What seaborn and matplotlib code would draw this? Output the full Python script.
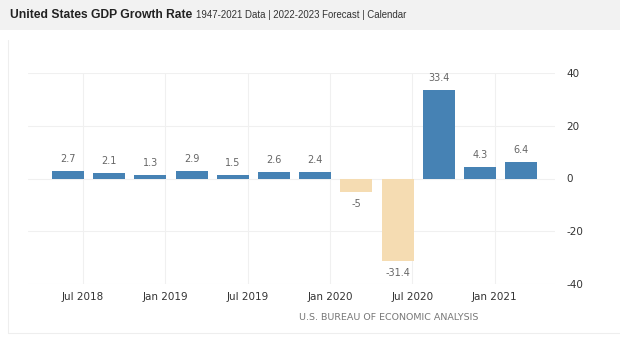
import numpy as np
import pandas as pd
import matplotlib
matplotlib.use("Agg")
import matplotlib.pyplot as plt
import seaborn as sns

# quarterly GDP growth, annualized (Q2 2018 .. Q1 2021)
quarters = ["2018Q2", "2018Q3", "2018Q4", "2019Q1", "2019Q2", "2019Q3",
            "2019Q4", "2020Q1", "2020Q2", "2020Q3", "2020Q4", "2021Q1"]
growth = [2.7, 2.1, 1.3, 2.9, 1.5, 2.6, 2.4, -5, -31.4, 33.4, 4.3, 6.4]
value_labels = ["2.7", "2.1", "1.3", "2.9", "1.5", "2.6", "2.4", "-5", "-31.4", "33.4", "4.3", "6.4"]
xtick_labels = ["Jul 2018", "Jan 2019", "Jul 2019", "Jan 2020", "Jul 2020", "Jan 2021"]
ytick_values = [-40, -20, 0, 20, 40]

BLUE = "#4682b4"
TAN = "#f5dcb2"

df = pd.DataFrame({"quarter": quarters, "growth": growth})
df["sign"] = np.where(df["growth"] >= 0, "pos", "neg")

sns.set_style("white")
plt.rcParams["font.family"] = ["DejaVu Sans"]

fig = plt.figure(figsize=(6.2, 3.51), dpi=100)
fig.patch.set_facecolor("white")

# header band
fig.patches.append(plt.Rectangle((0, 1 - 30 / 351), 1, 30 / 351, transform=fig.transFigure,
                                 facecolor="#f2f2f2", edgecolor="none", zorder=0))
fig.text(10 / 620, 1 - 15 / 351, "United States GDP Growth Rate", fontsize=8.7,
         fontweight="bold", color="#222222", va="center", ha="left",
         family="Liberation Sans")
fig.text(196 / 620, 1 - 15 / 351, "1947-2021 Data | 2022-2023 Forecast | Calendar",
         fontsize=6.9, color="#333333", va="center", ha="left",
         family="Liberation Sans")

# outer container border
fig.add_artist(plt.Line2D([8 / 620, 8 / 620], [1 - 333 / 351, 1 - 40 / 351],
                          transform=fig.transFigure, color="#eeeeee", lw=0.8))
fig.add_artist(plt.Line2D([8 / 620, 1.0], [1 - 333 / 351, 1 - 333 / 351],
                          transform=fig.transFigure, color="#eeeeee", lw=0.8))

ax = fig.add_axes([28 / 620, 1 - 284 / 351, (555 - 28) / 620, (284 - 73) / 351])

sns.barplot(data=df, x="quarter", y="growth", hue="sign", order=quarters,
            palette={"pos": BLUE, "neg": TAN}, dodge=False, legend=False,
            saturation=1, linewidth=0, width=0.78, ax=ax, zorder=3)

for i, (v, lab) in enumerate(zip(growth, value_labels)):
    if v >= 0:
        ax.annotate(lab, (i, v), xytext=(0, 5), textcoords="offset points",
                    ha="center", va="bottom", fontsize=7, color="#666666")
    else:
        ax.annotate(lab, (i, v), xytext=(0, -5), textcoords="offset points",
                    ha="center", va="top", fontsize=7, color="#666666")

ax.set_xlim(-0.97, 11.82)
ax.set_ylim(-40, 40)
xt = [0.36 + 2 * k for k in range(len(xtick_labels))]
ax.set_xticks(xt)
ax.set_xticklabels(xtick_labels, fontsize=7.5, color="#333333")
ax.yaxis.tick_right()
ax.set_yticks(ytick_values)
ax.set_yticklabels([str(v) for v in ytick_values], fontsize=7.5, color="#333333")
ax.tick_params(axis="both", length=0, pad=6)
ax.tick_params(axis="y", pad=8)
ax.set_xlabel("")
ax.set_ylabel("")
ax.grid(True, color="#f0f0f0", lw=0.8, zorder=0)
ax.set_axisbelow(True)
for s in ax.spines.values():
    s.set_visible(False)

fig.text(478 / 620, 1 - 318 / 351, "U.S. BUREAU OF ECONOMIC ANALYSIS", fontsize=6.8,
         color="#777777", ha="right", va="center")

fig.savefig("out.png", dpi=100)
